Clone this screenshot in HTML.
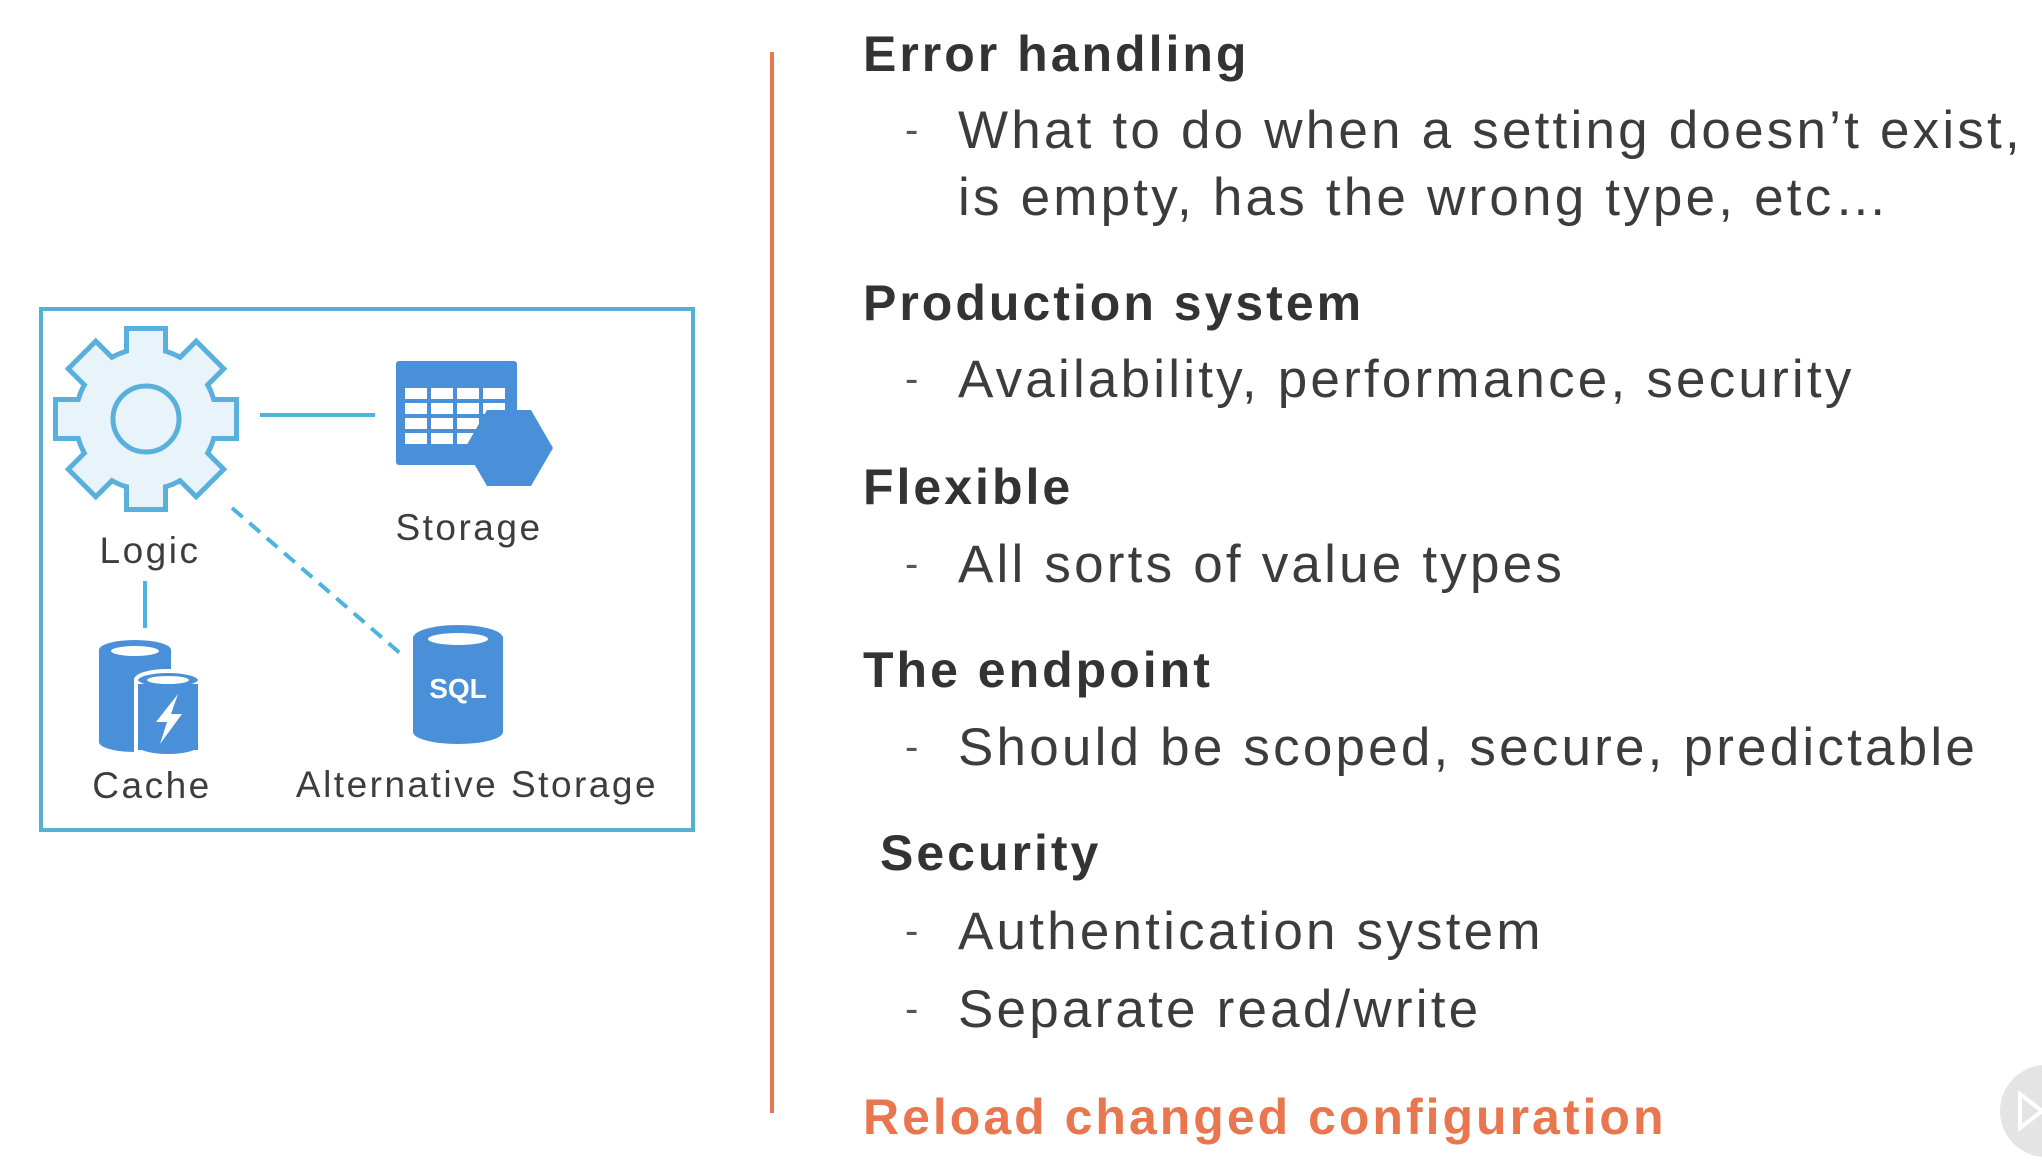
<!DOCTYPE html>
<html><head><meta charset="utf-8"><style>
html,body{margin:0;padding:0;background:#fff;}
body{width:2042px;height:1174px;position:relative;overflow:hidden;font-family:"Liberation Sans",sans-serif;}
.t{position:absolute;white-space:nowrap;line-height:1;color:#3a3a3a;}
.h{font-weight:bold;font-size:50px;color:#333;letter-spacing:3px;}
.b{font-size:53px;letter-spacing:3.2px;color:#3c3c3c;}
.d{font-size:40px;color:#555;}
</style></head><body>
<svg width="2042" height="1174" style="position:absolute;left:0;top:0">
<rect x="41" y="309" width="652" height="521" fill="none" stroke="#55b0d2" stroke-width="4"/>
<line x1="772" y1="52" x2="772" y2="1113" stroke="#e8764f" stroke-width="4"/>
<line x1="260" y1="415" x2="375" y2="415" stroke="#4bb3e0" stroke-width="4"/>
<line x1="145" y1="581" x2="145" y2="628" stroke="#4bb3e0" stroke-width="4"/>
<line x1="232" y1="508" x2="401" y2="654" stroke="#4bb3e0" stroke-width="4" stroke-dasharray="14,9"/>
<g transform="translate(146,419)">
<g stroke="#5ab0dc" stroke-width="10" fill="#5ab0dc">
<circle r="68"/>
<rect x="-17" y="-88" width="34" height="40" transform="rotate(0)"/>
<rect x="-17" y="-88" width="34" height="40" transform="rotate(45)"/>
<rect x="-17" y="-88" width="34" height="40" transform="rotate(90)"/>
<rect x="-17" y="-88" width="34" height="40" transform="rotate(135)"/>
<rect x="-17" y="-88" width="34" height="40" transform="rotate(180)"/>
<rect x="-17" y="-88" width="34" height="40" transform="rotate(225)"/>
<rect x="-17" y="-88" width="34" height="40" transform="rotate(270)"/>
<rect x="-17" y="-88" width="34" height="40" transform="rotate(315)"/>
</g>
<g fill="#e8f3fa">
<circle r="68"/>
<rect x="-17" y="-88" width="34" height="40" transform="rotate(0)"/>
<rect x="-17" y="-88" width="34" height="40" transform="rotate(45)"/>
<rect x="-17" y="-88" width="34" height="40" transform="rotate(90)"/>
<rect x="-17" y="-88" width="34" height="40" transform="rotate(135)"/>
<rect x="-17" y="-88" width="34" height="40" transform="rotate(180)"/>
<rect x="-17" y="-88" width="34" height="40" transform="rotate(225)"/>
<rect x="-17" y="-88" width="34" height="40" transform="rotate(270)"/>
<rect x="-17" y="-88" width="34" height="40" transform="rotate(315)"/>
</g>
<circle r="33" fill="#e8f3fa" stroke="#5ab0dc" stroke-width="5"/>
</g>
<rect x="396" y="361" width="121" height="104" rx="3" fill="#4a90d9"/>
<g fill="#fff">
<rect x="405" y="388" width="22" height="11"/><rect x="431" y="388" width="22" height="11"/><rect x="457" y="388" width="22" height="11"/><rect x="483" y="388" width="22" height="11"/>
<rect x="405" y="403" width="22" height="11"/><rect x="431" y="403" width="22" height="11"/><rect x="457" y="403" width="22" height="11"/><rect x="483" y="403" width="22" height="11"/>
<rect x="405" y="418" width="22" height="11"/><rect x="431" y="418" width="22" height="11"/><rect x="457" y="418" width="22" height="11"/>
<rect x="405" y="433" width="22" height="11"/><rect x="431" y="433" width="22" height="11"/><rect x="457" y="433" width="22" height="11"/>
</g>
<polygon points="465,448 487,410 531,410 553,448 531,486 487,486" fill="#4a90d9"/>
<g>
<rect x="99" y="650" width="72" height="92" fill="#4a90d9"/>
<ellipse cx="135" cy="650" rx="36" ry="10" fill="#4a90d9"/>
<ellipse cx="135" cy="742" rx="36" ry="10" fill="#4a90d9"/>
<ellipse cx="135" cy="651" rx="24" ry="5" fill="#fff"/>
<rect x="136" y="680" width="64" height="72" fill="#4a90d9" stroke="#fff" stroke-width="4"/>
<ellipse cx="168" cy="680" rx="32" ry="9" fill="#4a90d9" stroke="#fff" stroke-width="4"/>
<ellipse cx="168" cy="680" rx="21" ry="4" fill="#fff"/>
<rect x="138" y="684" width="60" height="62" fill="#4a90d9"/>
<ellipse cx="168" cy="746" rx="30" ry="8" fill="#4a90d9"/>
<polygon points="178,694 156,722 167,722 160,744 182,714 171,714" fill="#fff"/>
</g>
<rect x="413" y="638" width="90" height="94" fill="#4a90d9"/>
<ellipse cx="458" cy="638" rx="45" ry="13" fill="#4a90d9"/>
<ellipse cx="458" cy="732" rx="45" ry="12" fill="#4a90d9"/>
<ellipse cx="458" cy="639" rx="30" ry="6" fill="#fff"/>
<text x="458" y="698" font-family="Liberation Sans,sans-serif" font-weight="bold" font-size="28" fill="#fff" text-anchor="middle">SQL</text>
<g font-family="Liberation Sans,sans-serif" font-size="37" fill="#3d3d3d" text-anchor="middle" letter-spacing="2.5">
<text x="150" y="563">Logic</text>
<text x="469" y="540">Storage</text>
<text x="152" y="798">Cache</text>
<text x="477" y="797">Alternative Storage</text>
</g>
<circle cx="2046" cy="1111" r="46" fill="#e4e4e4"/>
<polygon points="2020,1094 2042,1111 2020,1128" fill="none" stroke="#fff" stroke-width="4"/>
</svg>
<div class="t h" style="left:863px;top:29px">Error handling</div>
<div class="t d" style="left:905px;top:110px">-</div>
<div class="t b" style="left:958px;top:104px">What to do when a setting doesn’t exist,</div>
<div class="t b" style="left:958px;top:171px">is empty, has the wrong type, etc…</div>
<div class="t h" style="left:863px;top:278px">Production system</div>
<div class="t d" style="left:905px;top:359px">-</div>
<div class="t b" style="left:958px;top:353px">Availability, performance, security</div>
<div class="t h" style="left:863px;top:462px">Flexible</div>
<div class="t d" style="left:905px;top:544px">-</div>
<div class="t b" style="left:958px;top:538px">All sorts of value types</div>
<div class="t h" style="left:863px;top:645px">The endpoint</div>
<div class="t d" style="left:905px;top:727px">-</div>
<div class="t b" style="left:958px;top:721px">Should be scoped, secure, predictable</div>
<div class="t h" style="left:880px;top:828px">Security</div>
<div class="t d" style="left:905px;top:911px">-</div>
<div class="t b" style="left:958px;top:905px">Authentication system</div>
<div class="t d" style="left:905px;top:989px">-</div>
<div class="t b" style="left:958px;top:983px">Separate read/write</div>
<div class="t h" style="left:863px;top:1092px;color:#e8764f">Reload changed configuration</div>
</body></html>
